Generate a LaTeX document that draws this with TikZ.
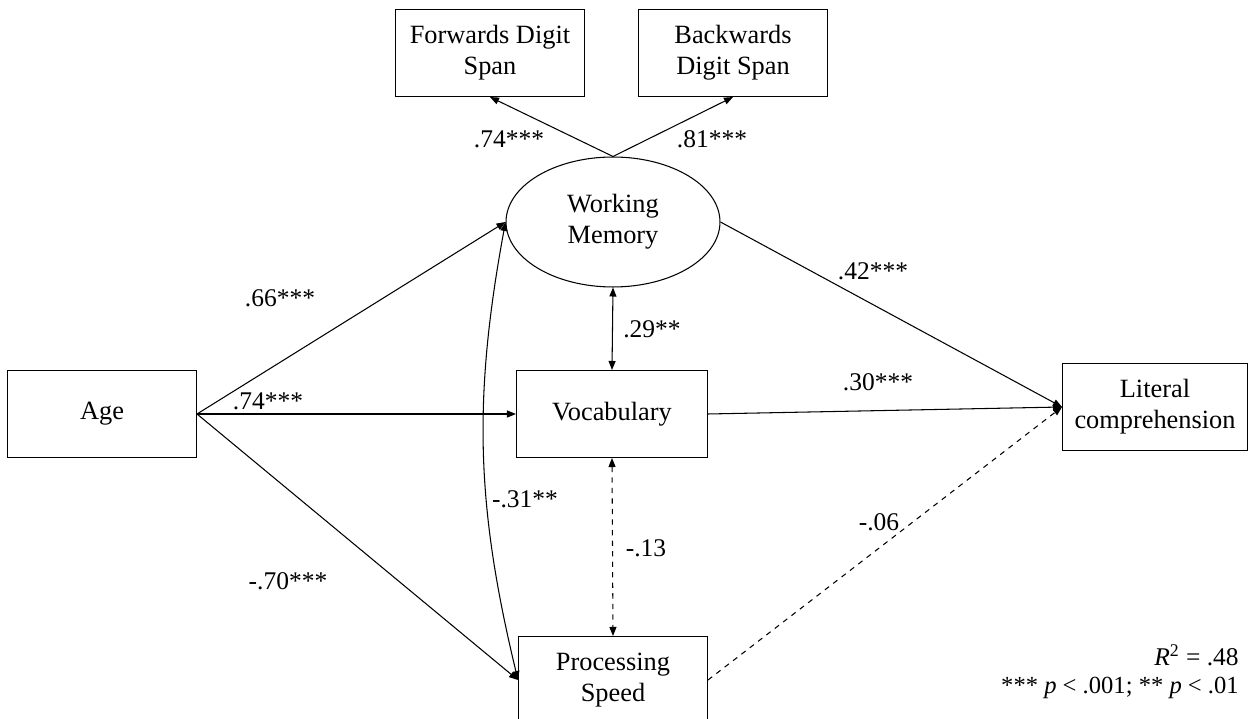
\documentclass[tikz,border=0pt]{standalone}
\usepackage{fontspec}
\setmainfont{Liberation Serif}
\usetikzlibrary{shapes.geometric, arrows.meta, positioning}
\tikzstyle{varbox} = [rectangle, minimum width=3.78cm, minimum height=1.74cm, inner sep=0pt, align=center, draw=black, font=\fontsize{15}{17.5}\selectfont]
\tikzstyle{latent} = [ellipse, minimum width=4.28cm, minimum height=2.6cm, inner sep=0pt, align=center, draw=black, font=\fontsize{15}{17.5}\selectfont]
\tikzstyle{coef} = [font=\fontsize{14.5}{17}\selectfont, inner sep=1pt]
\tikzstyle{arrow} = [->, >={Triangle[length=1.8mm,width=1.4mm]}]
\tikzstyle{covar} = [<->, >={Triangle[length=1.8mm,width=1.4mm]}]

\begin{document}
\begin{tikzpicture}[x=0.02cm, y=-0.02cm, line width=0.6pt]
\useasboundingbox (0,0) rectangle (1249,719);

% Nodes
\node (fds) [varbox] at (490,53) {Forwards Digit\\Span};
\node (bds) [varbox] at (733,53) {Backwards\\Digit Span};
\node (wm) [latent] at (613,222) {Working\\Memory};
\node (age) [varbox] at (102,414) {Age};
\node (voc) [varbox, minimum width=3.82cm] at (612,414) {Vocabulary};
\node (ps) [varbox] at (613,680) {Processing\\Speed};
\node (lit) [varbox, minimum width=3.7cm] at (1155,407) {Literal\\comprehension};

% Arrows
\draw [arrow] (wm.north) -- (fds.south);
\draw [arrow] (wm.north) -- (bds.south);
\draw [arrow] (age.east) -- (wm.west);
\draw [arrow] (age.east) -- (voc.west);
\draw [arrow] (age.east) -- (ps.west);
\draw [arrow] (wm.east) -- (lit.west);
\draw [arrow] (voc.east) -- (lit.west);
\draw [arrow, dashed] (ps.east) -- (lit.west);
\draw [covar] (wm.south) -- (voc.north);
\draw [covar, dashed] (voc.south) -- (ps.north);
\draw [covar] (wm.west) to[bend right=12] (ps.west);

% Labels
\node (c1) [coef] at (509,139) {.74***};
\node (c2) [coef] at (712,139) {.81***};
\node (c3) [coef] at (280,298) {.66***};
\node (c4) [coef] at (268,401) {.74***};
\node (c5) [coef] at (288,581) {-.70***};
\node (c6) [coef] at (525,499) {-.31**};
\node (c7) [coef] at (652,329) {.29**};
\node (c8) [coef] at (646,548) {-.13};
\node (c9) [coef] at (873,271) {.42***};
\node (c10) [coef] at (878,382) {.30***};
\node (c11) [coef] at (879,522) {-.06};
\node (rsq) [coef, anchor=east] at (1241,655) {\itshape R\upshape\textsuperscript{2} = .48};
\node (sig) [coef, anchor=east, font=\fontsize{14}{16}\selectfont] at (1241,688) {*** \textit{p} < .001; ** \textit{p} < .01};

\end{tikzpicture}
\end{document}
